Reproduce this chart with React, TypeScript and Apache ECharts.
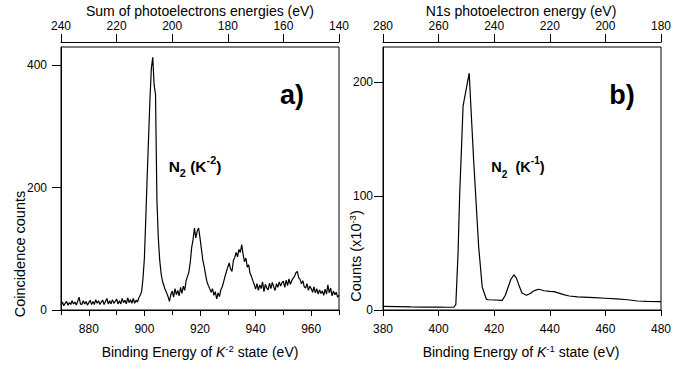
import React, { useEffect, useRef } from 'react';
import * as echarts from 'echarts';

// Panel a) : coincidence counts vs binding energy of K^-2 state (0.5 eV bins from 870 eV)
const leftStartEnergy = 870;
const leftStepEnergy = 0.5;
const leftCounts = [
  9, 13, 7, 11, 14, 8, 12, 9, 15, 10,
  13, 8, 14, 21, 10, 9, 15, 10, 14, 8,
  12, 16, 9, 14, 9, 17, 11, 15, 9, 13,
  16, 9, 14, 19, 10, 15, 10, 17, 11, 14,
  18, 10, 15, 10, 19, 12, 16, 10, 20, 12,
  17, 11, 19, 11, 16, 13, 20, 24, 30, 52,
  85, 150, 218, 282, 345, 395, 413, 368, 352, 180,
  118, 82, 60, 47, 40, 33, 28, 22, 14, 25,
  31, 21, 35, 25, 32, 23, 37, 27, 39, 32,
  48, 55, 62, 78, 102, 115, 134, 118, 129, 134,
  118, 100, 82, 71, 58, 46, 40, 35, 29, 35,
  24, 30, 18, 28, 22, 33, 38, 46, 55, 63,
  70, 77, 67, 63, 81, 86, 94, 87, 99, 94,
  107, 91, 79, 85, 70, 74, 60, 55, 48, 42,
  34, 43, 32, 41, 35, 46, 30, 42, 36, 33,
  44, 35, 45, 38, 32, 43, 37, 46, 39, 45,
  47, 37, 49, 40, 51, 42, 48, 52, 55, 61,
  63, 53, 50, 43, 48, 38, 36, 43, 32, 39,
  35, 29, 38, 28, 35, 26, 33, 27, 31, 24,
  34, 26, 41, 28, 36, 23, 31, 25, 29, 21,
  24,
];

// Panel b) : counts (x10^-3) vs binding energy of K^-1 state
const rightEnergies = [
  380, 385, 390, 395, 400, 403, 405.5, 406.2, 407, 407.6, 408.2, 408.8, 411,
  412.6, 414.4, 415.7, 417.2, 418, 420, 422.9, 424, 425, 426, 427.1, 428,
  429, 430, 431.6, 433, 434, 435, 436, 437, 438, 440, 441.5, 443, 445, 447,
  450, 456, 460, 464, 468, 471.5, 475, 479.3, 480,
];
const rightCounts = [
  3.1, 2.9, 2.7, 2.6, 2.5, 2.4, 2.4, 5, 50, 103, 140, 179, 208,
  132, 56, 20, 9.4, 9, 8.8, 8.5, 13, 20, 27, 30.8, 28,
  21, 15, 13, 14.5, 16.5, 17.5, 18.2, 17.6, 16.9, 16.3, 16.2, 15, 13.5, 12.3,
  11.5, 10.8, 10.3, 9.7, 9, 7.9, 7.6, 7.3, 7.3,
];

const leftBottomTicks = [880, 900, 920, 940, 960];
const leftTopTicks = [240, 220, 200, 180, 160, 140];
const leftYTicks = [0, 200, 400];
const rightBottomTicks = [380, 400, 420, 440, 460, 480];
const rightTopTicks = [280, 260, 240, 220, 200, 180];
const rightYTicks = [0, 100, 200];

const FONT = '"Liberation Sans", Arial, Helvetica, sans-serif';

export default function App() {
  const ref = useRef<HTMLDivElement>(null);

  useEffect(() => {
    if (!ref.current) return;
    const chart = echarts.init(ref.current, undefined, { renderer: 'svg' });

    const leftData = leftCounts.map((v, i) => [leftStartEnergy + i * leftStepEnergy, v]);
    const rightData = rightCounts.map((v, i) => [rightEnergies[i], v]);

    const axisLine = { show: true, onZero: false, lineStyle: { color: '#000', width: 1 } };
    const labelStyle = { color: '#000', fontSize: 12, fontFamily: FONT };

    const bottomAxis = (grid: number, min: number, max: number, ticks: number[]) => ({
      type: 'value', gridIndex: grid, position: 'bottom', min, max,
      axisLine,
      axisTick: { show: true, length: 6, lineStyle: { color: '#000' }, customValues: ticks },
      axisLabel: { ...labelStyle, margin: 13, customValues: ticks },
      splitLine: { show: false },
    });
    // top axis (outer ticks + labels)
    const topAxis = (grid: number, min: number, max: number, ticks: number[]) => ({
      type: 'value', gridIndex: grid, position: 'top', min, max, inverse: true, offset: 5,
      axisLine,
      axisTick: { show: true, length: 8, lineStyle: { color: '#000' }, customValues: ticks },
      axisLabel: { ...labelStyle, margin: 10, customValues: ticks },
      splitLine: { show: false },
    });
    // inner part of the crossing ticks of the top axis
    const topAxisInner = (grid: number, min: number, max: number, ticks: number[]) => ({
      type: 'value', gridIndex: grid, position: 'top', min, max, inverse: true, offset: 5,
      axisLine: { show: false },
      axisTick: { show: true, inside: true, length: 5, lineStyle: { color: '#000' }, customValues: ticks },
      axisLabel: { show: false },
      splitLine: { show: false },
    });
    const leftAxis = (grid: number, max: number, ticks: number[], margin: number) => ({
      type: 'value', gridIndex: grid, min: 0, max,
      axisLine,
      axisTick: { show: true, length: 9, lineStyle: { color: '#000' }, customValues: ticks },
      axisLabel: { ...labelStyle, margin, customValues: ticks },
      splitLine: { show: false },
    });

    const sup = { fontSize: 9.5, fontFamily: FONT, fill: '#000', verticalAlign: 'top' };
    const txt = (x: number, y: number, text: string, fontSize: number, extra: any = {}) => ({
      type: 'text', x, y, rotation: extra.rotation || 0,
      style: {
        text, x: 0, y: 0, fill: '#000', fontSize, fontFamily: FONT,
        fontWeight: extra.bold ? 'bold' : 'normal',
        align: 'center', verticalAlign: 'middle', textAlign: 'center', textVerticalAlign: 'middle',
        rich: extra.rich,
      },
    });

    const axisNameRich = {
      n: { fontSize: 14, fontFamily: FONT, fill: '#000', lineHeight: 18 },
      i: { fontSize: 14, fontFamily: FONT, fill: '#000', fontStyle: 'italic', lineHeight: 18 },
      s: sup,
    };
    const yNameRich = {
      n: { fontSize: 14.5, fontFamily: FONT, fill: '#000', lineHeight: 18 },
      s: sup,
    };
    const labelRich = (fs: number) => ({
      b: { fontSize: fs, fontWeight: 'bold', fontFamily: FONT, fill: '#000', lineHeight: 24 },
      sub: { fontSize: fs * 0.7, fontWeight: 'bold', fontFamily: FONT, fill: '#000', verticalAlign: 'bottom' },
      sup: { fontSize: fs * 0.7, fontWeight: 'bold', fontFamily: FONT, fill: '#000', verticalAlign: 'top' },
    });

    chart.setOption({
      animation: false,
      backgroundColor: '#fff',
      grid: [
        { left: 61, top: 47, width: 278, height: 263, show: true, borderColor: '#000', borderWidth: 1, backgroundColor: 'transparent' },
        { left: 383, top: 47, width: 278, height: 263, show: true, borderColor: '#000', borderWidth: 1, backgroundColor: 'transparent' },
      ],
      xAxis: [
        bottomAxis(0, 870, 970, leftBottomTicks),
        topAxis(0, 140, 240, leftTopTicks),
        bottomAxis(1, 380, 480, rightBottomTicks),
        topAxis(1, 180, 280, rightTopTicks),
        topAxisInner(0, 140, 240, leftTopTicks),
        topAxisInner(1, 180, 280, rightTopTicks),
      ],
      yAxis: [
        leftAxis(0, 430, leftYTicks, 14),
        leftAxis(1, 231, rightYTicks, 10),
      ],
      series: [
        {
          type: 'line', xAxisIndex: 0, yAxisIndex: 0, data: leftData,
          showSymbol: false, symbol: 'none', lineStyle: { color: '#000', width: 1.2 },
        },
        {
          type: 'line', xAxisIndex: 2, yAxisIndex: 1, data: rightData,
          showSymbol: false, symbol: 'none', lineStyle: { color: '#000', width: 1.2 },
        },
      ],
      graphic: [
        txt(200, 11, 'Sum of photoelectrons energies (eV)', 14),
        txt(521, 11, 'N1s photoelectron energy (eV)', 14),
        txt(200, 352, '{n|Binding Energy of }{i|K}{s|-2}{n| state (eV)}', 14, { rich: axisNameRich }),
        txt(521, 352, '{n|Binding Energy of }{i|K}{s|-1}{n| state (eV)}', 14, { rich: axisNameRich }),
        txt(20, 254, 'Coincidence counts', 14.5, { rotation: Math.PI / 2 }),
        txt(356, 256, '{n|Counts (x10}{s|-3}{n|)}', 14.5, { rotation: Math.PI / 2, rich: yNameRich }),
        txt(292, 95, 'a)', 27, { bold: true }),
        txt(622, 95, 'b)', 27, { bold: true }),
        txt(195, 166, '{b|N}{sub|2}{b| (K}{sup|-2}{b|)}', 15.5, { rich: labelRich(15.5) }),
        txt(518, 167, '{b|N}{sub|2}{b|  (K}{sup|-1}{b|)}', 14.5, { rich: labelRich(14.5) }),
      ],
    });

    return () => chart.dispose();
  }, []);

  return <div ref={ref} style={{ position: 'absolute', left: 0, top: 0, width: 689, height: 369 }} />;
}
